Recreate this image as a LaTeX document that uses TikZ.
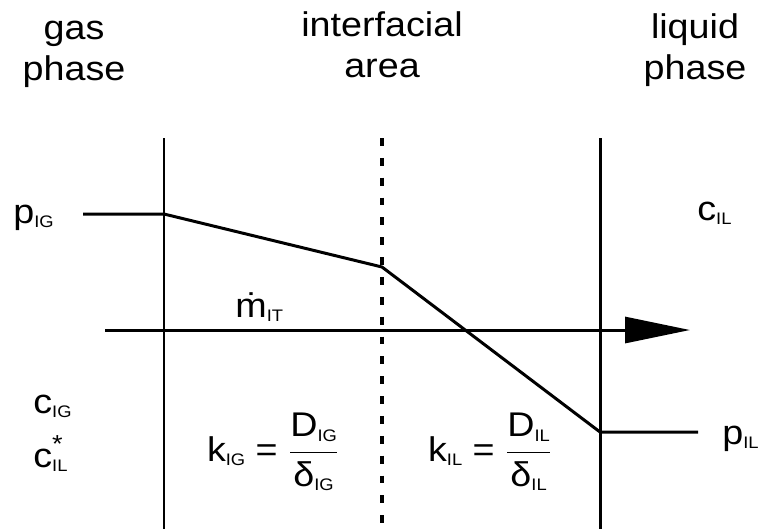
\documentclass[tikz,border=0pt]{standalone}
\usepackage{amsmath}
\usepackage{fontspec}
\setmainfont{Liberation Sans}[FakeStretch=1.1]
\usepackage{tikz}
\usetikzlibrary{arrows.meta,positioning}

\tikzset{
  wall/.style={line width=1.7pt},
  film/.style={line width=2pt,dash pattern=on 4.5pt off 6.8pt},
  profile/.style={line width=1.7pt,line join=miter},
  flux/.style={line width=1.7pt,-{Triangle[length=1.3cm,width=0.52cm]}},
  lbl/.style={inner sep=0pt,font=\fontsize{19.5}{23.2}\selectfont,align=center},
}
\newcommand{\low}[1]{\raisebox{-2.4pt}{\fontsize{9.5}{10}\selectfont #1}}
\newcommand{\eqmark}{\rlap{\raisebox{8pt}{\fontsize{14}{14}\selectfont *}}}

\begin{document}
\begin{tikzpicture}[x=0.02cm,y=-0.02cm]
  \useasboundingbox (0,0) rectangle (759,529);
  % walls and interface
  \coordinate (gtop) at (164,138);
  \coordinate (gbot) at (164,529);
  \coordinate (itop) at (382,138);
  \coordinate (ibot) at (382,529);
  \coordinate (ltop) at (600,138);
  \coordinate (lbot) at (600,529);
  \draw[wall] (gtop) -- (gbot);
  \draw[film] (itop) -- (ibot);
  \draw[wall] (ltop) -- (lbot);
  % pressure profile
  \coordinate (pg) at (83,214);
  \coordinate (pgi) at (164,214);
  \coordinate (pi) at (382,267);
  \coordinate (pli) at (600,432);
  \coordinate (pl) at (698,432);
  \draw[profile] (pg) -- (pgi) -- (pi) -- (pli) -- (pl);
  % mass flux
  \coordinate (fin) at (105,330);
  \coordinate (fout) at (690,330);
  \draw[flux] (fin) -- (fout);
  % labels
  \node[lbl] (gas) at (74,54) {gas\\phase};
  \node[lbl] (iface) at (382,45) {interfacial\\area};
  \node[lbl] (liq) at (695,50) {liquid\\phase};
  \node[lbl,anchor=base west] (pIG) at (13,223) {p\low{IG}};
  \node[lbl,anchor=base west] (cIL) at (697,220) {c\low{IL}};
  \node[lbl,anchor=base west] (mIT) at (235,317) {\.{m}\low{IT}};
  \node[lbl,anchor=base west] (cIG) at (33,413) {c\low{IG}};
  \node[lbl,anchor=base west] (cst) at (33,467) {c\eqmark\low{IL}};
  \node[lbl] (kIG) at (273,452)
    {k\low{IG} = $\displaystyle\frac{\text{D\low{IG}}}{\text{δ\low{IG}}}$};
  \node[lbl] (kIL) at (490,452)
    {k\low{IL} = $\displaystyle\frac{\text{D\low{IL}}}{\text{δ\low{IL}}}$};
  \node[lbl,anchor=base west] (pIL) at (722,444) {p\low{IL}};
\end{tikzpicture}
\end{document}
